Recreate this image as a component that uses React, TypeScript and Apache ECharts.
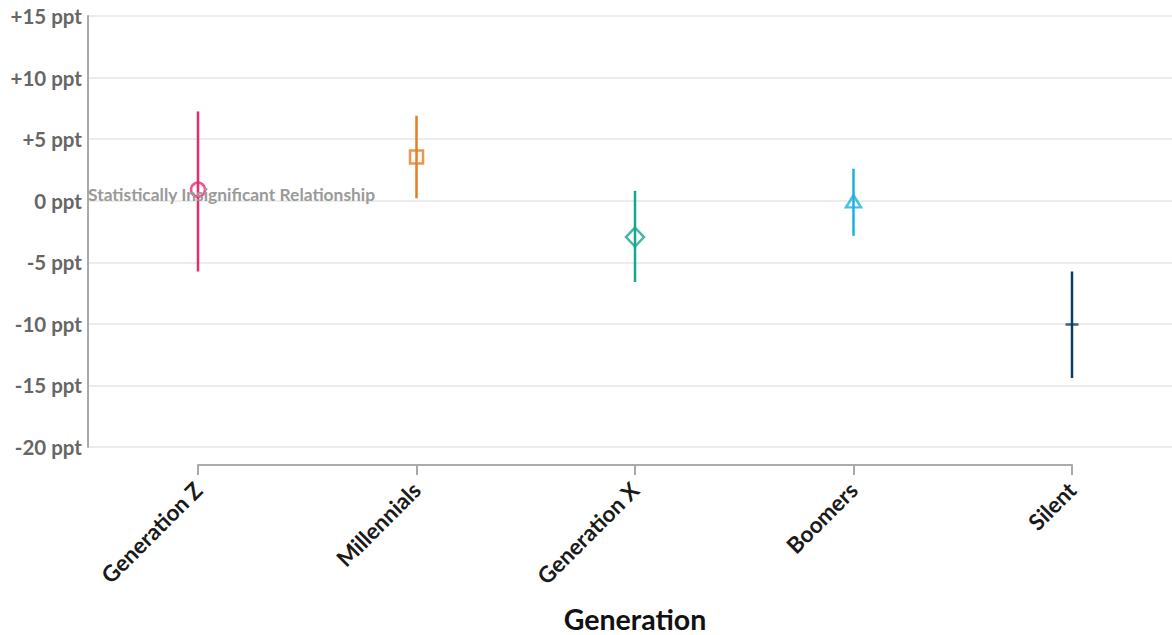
import React, { useEffect, useRef } from "react";
import * as echarts from "echarts";

const categories = ["Generation Z", "Millennials", "Generation X", "Boomers", "Silent"];
const estimates = [0.9, 3.55, -2.95, -0.05, -10.05];
const lowerBounds = [-5.75, 0.2, -6.6, -2.85, -14.4];
const upperBounds = [7.25, 6.9, 0.8, 2.6, -5.75];
const colors = ["#ee2a6b", "#e67e22", "#17a68e", "#1eb0e0", "#0b3d66"];
const symbols = ["circle", "rect", "diamond", "triangle", "rect"];
const symbolSizes: any[] = [14, 13, [18, 19], [15, 12], [13, 2.5]];
const yTicks = [-20, -15, -10, -5, 0, 5, 10, 15];
const annotation = "Statistically Insignificant Relationship";

const FONT = "Lato, 'Open Sans', sans-serif";

export default function App() {
  const ref = useRef<HTMLDivElement>(null);
  useEffect(() => {
    document.body.style.margin = "0";
    const chart = echarts.init(ref.current!, null, { renderer: "svg" });
    const gridTop = 16;
    const gridBottom = 188;
    const option: any = {
      animation: false,
      grid: [
        { left: 88, right: 0, top: gridTop, bottom: gridBottom, outerBoundsMode: "none", containLabel: false },
        { left: 198, right: 100, top: gridTop, bottom: gridBottom, outerBoundsMode: "none", containLabel: false },
      ],
      xAxis: [
        { type: "value", gridIndex: 0, min: 0, max: 1, show: false },
        {
          type: "category",
          gridIndex: 1,
          data: categories,
          boundaryGap: false,
          offset: 18,
          axisLine: { onZero: false, lineStyle: { color: "#aaaaaa", width: 2 } },
          axisTick: { length: 10, lineStyle: { color: "#aaaaaa", width: 2 } },
          axisLabel: {
            rotate: 45,
            margin: 21,
            fontFamily: FONT,
            fontWeight: "bold",
            fontSize: 22.5,
            color: "#1a1a1a",
          },
          name: "Generation",
          nameLocation: "middle",
          nameGap: 139,
          nameTextStyle: { fontFamily: FONT, fontWeight: "bold", fontSize: 28.5, color: "#111111" },
        },
      ],
      yAxis: [
        {
          type: "value",
          gridIndex: 0,
          min: yTicks[0],
          max: yTicks[yTicks.length - 1],
          interval: 5,
          axisLine: { show: true, lineStyle: { color: "#aaaaaa", width: 2 } },
          axisTick: { show: false },
          splitLine: { lineStyle: { color: "#ececec", width: 2 } },
          axisLabel: {
            margin: 6,
            fontFamily: FONT,
            fontWeight: "bold",
            fontSize: 20.5,
            color: "#666666",
            formatter: (v: number) => (v > 0 ? "+" + v : "" + v) + " ppt",
          },
        },
        {
          type: "value",
          gridIndex: 1,
          min: yTicks[0],
          max: yTicks[yTicks.length - 1],
          show: false,
          splitLine: { show: false },
        },
      ],
      series: [
        {
          type: "custom",
          xAxisIndex: 1,
          yAxisIndex: 1,
          data: categories.map((c, i) => [i, lowerBounds[i], upperBounds[i]]),
          renderItem: (params: any, api: any) => {
            const i = api.value(0);
            const p1 = api.coord([i, api.value(1)]);
            const p2 = api.coord([i, api.value(2)]);
            return {
              type: "line",
              shape: { x1: p1[0], y1: p1[1], x2: p2[0], y2: p2[1] },
              style: { stroke: colors[i], lineWidth: 2.5 },
            };
          },
          z: 2,
        },
        ...categories.map((c, i) => ({
          type: "scatter",
          xAxisIndex: 1,
          yAxisIndex: 1,
          data: [[i, estimates[i]]],
          symbol: symbols[i],
          symbolSize: symbolSizes[i],
          itemStyle:
            i === 4
              ? { color: colors[i] }
              : { color: "rgba(255,255,255,0)", borderColor: colors[i], borderWidth: 2.5 },
          z: 3,
        })),
      ],
      graphic: [
        {
          type: "text",
          left: 88,
          top: 186,
          z: 10,
          style: {
            text: annotation,
            fontFamily: FONT,
            fontWeight: "bold",
            fontSize: 17.4,
            fill: "#9a9a9a",
          },
        },
      ],
    };
    chart.setOption(option);
    return () => chart.dispose();
  }, []);
  return <div ref={ref} style={{ width: 1172, height: 635 }} />;
}
